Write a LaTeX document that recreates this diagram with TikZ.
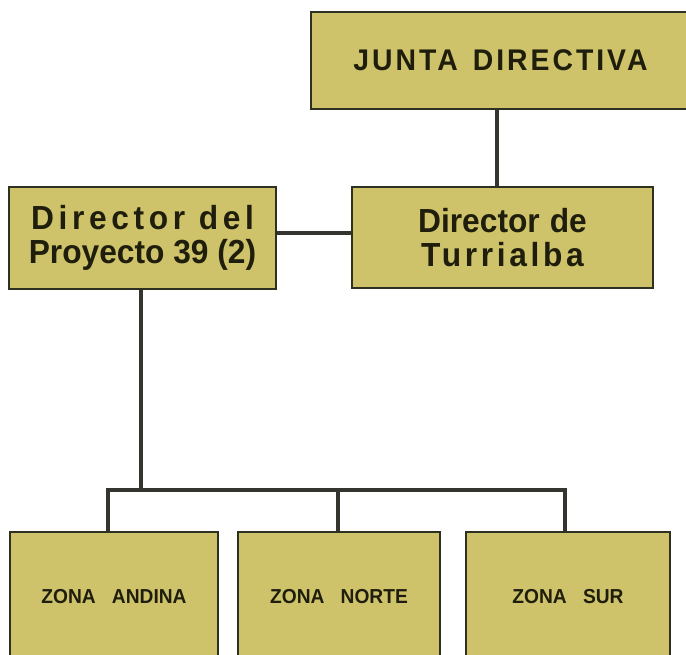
\documentclass[tikz,border=0pt]{standalone}
\usepackage{fontspec}
\setmainfont{Liberation Sans}
\newfontfamily\orgfont{Liberation Sans}[FakeStretch=0.95]
\definecolor{boxfill}{HTML}{CEC36A}
\definecolor{boxline}{HTML}{2E3020}
\definecolor{conn}{HTML}{35352F}
\definecolor{ink}{HTML}{1F1D0C}
\begin{document}
\begin{tikzpicture}[x=0.02cm,y=-0.02cm,
  orgbox/.style={draw=boxline, line width=0.9pt, fill=boxfill, inner sep=0pt,
    align=center, text=ink},
  bigtext/.style={font={\orgfont\bfseries\fontsize{19}{19.3}\selectfont}},
  toptext/.style={font={\orgfont\bfseries\fontsize{17}{19}\selectfont\addfontfeature{LetterSpace=10}}},
  zonetext/.style={font={\orgfont\bfseries\fontsize{11.5}{13}\selectfont}},
  link/.style={draw=conn, line width=1.8pt}]
\useasboundingbox (0,0) rectangle (686,654);
\clip (0,0) rectangle (686,654);
% boxes
\node[orgbox, toptext, minimum width=379*0.02cm, minimum height=97*0.02cm] (junta) at (500.5,60.5)
  {JUNTA\hspace{0.5em}DIRECTIVA};
\node[orgbox, bigtext, minimum width=267*0.02cm, minimum height=102*0.02cm] (dirP) at (142.5,238)
  {{\addfontfeature{LetterSpace=14}Director del}\\Proyecto 39 (2)};
\node[orgbox, bigtext, minimum width=301*0.02cm, minimum height=101*0.02cm] (dirT) at (502.5,237.5)
  {Director\hspace{0.3em}de\\{\addfontfeature{LetterSpace=11}Turrialba}};
\node[orgbox, zonetext, minimum width=208*0.02cm, minimum height=130*0.02cm] (za) at (114,597)
  {ZONA\hspace{0.8em}ANDINA};
\node[orgbox, zonetext, minimum width=202*0.02cm, minimum height=130*0.02cm] (zn) at (339,597)
  {ZONA\hspace{0.8em}NORTE};
\node[orgbox, zonetext, minimum width=204*0.02cm, minimum height=130*0.02cm] (zs) at (568,597)
  {ZONA\hspace{0.8em}SUR};
% guide coordinates
\coordinate (vj) at (497,0);
\coordinate (vh) at (0,233);
\coordinate (vp) at (141,0);
\coordinate (bus) at (141,490);
\coordinate (x1) at (108,0);
\coordinate (x2) at (338,0);
\coordinate (x3) at (565,0);
% connectors
\draw[link] (junta.south -| vj) -- (dirT.north -| vj);
\draw[link] (dirP.east |- vh) -- (dirT.west |- vh);
\draw[link] (dirP.south -| vp) -- (bus);
\draw[link] (za.north -| x1) |- (bus) -| (zs.north -| x3);
\draw[link] (zn.north -| x2) -- (bus -| x2);
\end{tikzpicture}
\end{document}
